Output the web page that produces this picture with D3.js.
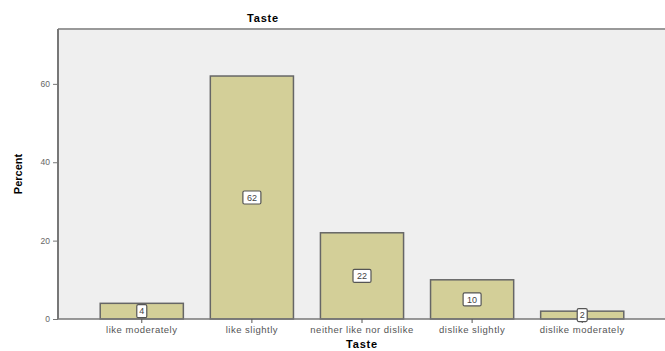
<!DOCTYPE html>
<html>
<head>
<meta charset="utf-8">
<script src="https://cdn.jsdelivr.net/npm/d3@7"></script>
<style>
  body { margin: 0; background: #fff; }
  svg { display: block; font-family: "Liberation Sans", Arial, sans-serif; }
</style>
</head>
<body>
<svg id="chart"></svg>
<script>
// dati del grafico
const categories = ["like moderately", "like slightly", "neither like nor dislike", "dislike slightly", "dislike moderately"];
const percents = [4, 62, 22, 10, 2];
const yTicks = [0, 20, 40, 60];

const width = 665, height = 351;
const margin = { top: 29, right: 0, bottom: 32, left: 58 };
const svg = d3.select("#chart").attr("width", width).attr("height", height);

const x = d3.scaleBand().domain(categories)
    .range([87, 637]).paddingInner(0.245).paddingOuter(0.12);
const y = d3.scaleLinear().domain([0, 74]).range([height - margin.bottom, margin.top]);

// sfondo area grafico
svg.append("rect")
    .attr("x", margin.left).attr("y", margin.top)
    .attr("width", width - margin.left).attr("height", y(0) - margin.top)
    .attr("fill", "#efefef");

// bordo superiore
svg.append("line")
    .attr("x1", margin.left).attr("x2", width)
    .attr("y1", margin.top).attr("y2", margin.top)
    .attr("stroke", "#999").attr("stroke-width", 2);

// barre
svg.append("g").selectAll("rect")
    .data(categories)
    .join("rect")
    .attr("x", d => x(d))
    .attr("y", (d, i) => y(percents[i]))
    .attr("width", x.bandwidth())
    .attr("height", (d, i) => y(0) - y(percents[i]))
    .attr("fill", "#d3cf98")
    .attr("stroke", "#666")
    .attr("stroke-width", 1.5);

// asse Y
const gY = svg.append("g").attr("transform", `translate(${margin.left},0)`)
    .call(d3.axisLeft(y).tickValues(yTicks).tickSize(5).tickPadding(3));
gY.select(".domain").attr("stroke", "#777").attr("stroke-width", 2)
    .attr("d", `M0,${margin.top}V${y(0)}`);
gY.selectAll(".tick line").attr("stroke", "#777");
gY.selectAll(".tick text").attr("fill", "#666").style("font-size", "8.5px");

// asse X
const gX = svg.append("g").attr("transform", `translate(0,${y(0)})`)
    .call(d3.axisBottom(x).tickSize(4).tickPadding(3));
gX.select(".domain").attr("stroke", "#777").attr("stroke-width", 1.5)
    .attr("d", `M${margin.left},0H${width}`);
gX.selectAll(".tick line").attr("stroke", "#555");
gX.selectAll(".tick text").attr("fill", "#555")
    .style("font-size", "9.5px").style("letter-spacing", "0.5px");

// etichette valori
const labels = svg.append("g").selectAll("g")
    .data(categories)
    .join("g")
    .attr("transform", (d, i) => `translate(${x(d) + x.bandwidth() / 2},${y(percents[i] / 2)})`);
labels.append("rect")
    .attr("x", (d, i) => String(percents[i]).length > 1 ? -9 : -5)
    .attr("y", -6.5)
    .attr("width", (d, i) => String(percents[i]).length > 1 ? 18 : 10)
    .attr("height", 13)
    .attr("rx", 1.5)
    .attr("fill", "#fff").attr("stroke", "#555").attr("stroke-width", 1.2);
labels.append("text")
    .attr("text-anchor", "middle").attr("dy", "0.35em")
    .style("font-size", "9px").attr("fill", "#444")
    .text((d, i) => percents[i]);

// titoli
svg.append("text").attr("x", 263).attr("y", 22)
    .attr("text-anchor", "middle").style("font-size", "11px").style("font-weight", "bold")
    .style("letter-spacing", "0.8px")
    .text("Taste");
svg.append("text").attr("x", 362).attr("y", 348)
    .attr("text-anchor", "middle").style("font-size", "11px").style("font-weight", "bold")
    .style("letter-spacing", "0.8px")
    .text("Taste");
svg.append("text")
    .attr("transform", "translate(22,174) rotate(-90)")
    .attr("text-anchor", "middle").style("font-size", "11px").style("font-weight", "bold")
    .text("Percent");
</script>
</body>
</html>
